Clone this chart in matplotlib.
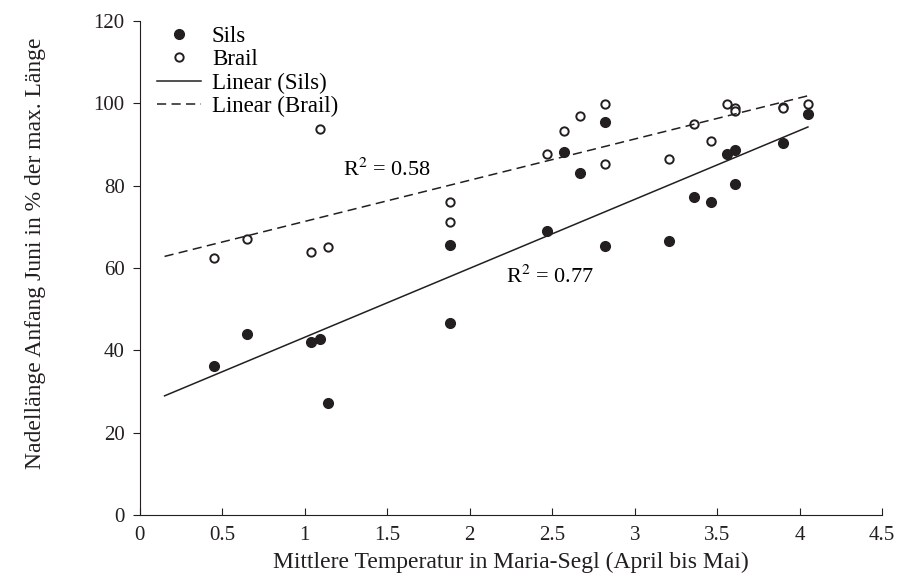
import numpy as np
import matplotlib.pyplot as plt

# Werte
sils_x = [0.45, 0.65, 1.04, 1.09, 1.14, 1.88, 1.88, 2.47, 2.57, 2.67, 2.82, 2.82,
          3.21, 3.36, 3.46, 3.56, 3.61, 3.61, 3.90, 4.05]
sils_y = [36.3, 44.0, 42.0, 42.7, 27.3, 65.7, 46.6, 69.1, 88.2, 83.1, 95.6, 65.4,
          66.5, 77.2, 76.0, 87.7, 88.8, 80.4, 90.3, 97.4]

brail_x = [0.45, 0.65, 1.04, 1.09, 1.14, 1.88, 1.88, 2.47, 2.57, 2.67, 2.82, 2.82,
           3.21, 3.36, 3.46, 3.56, 3.61, 3.61, 3.90, 3.90, 4.05]
brail_y = [62.5, 67.0, 64.0, 93.9, 65.1, 76.1, 71.2, 87.7, 93.2, 96.9, 99.8, 85.2,
           86.6, 95.0, 90.9, 99.8, 98.8, 98.2, 99.2, 98.8, 99.8]

plt.rcParams['font.family'] = ['Liberation Serif', 'DejaVu Serif']
plt.rcParams['font.size'] = 15
plt.rcParams['mathtext.fontset'] = 'stix'

fig = plt.figure(figsize=(9.02, 5.75), dpi=100)
ax = fig.add_axes([0.155, 0.1043, 0.823, 0.859])

ax.plot(sils_x, sils_y, 'o', color='#231f20', markersize=7, label='Sils')
ax.plot(brail_x, brail_y, 'o', markerfacecolor='white', markeredgecolor='#231f20',
        markeredgewidth=1.4, markersize=6, label='Brail')

xs = np.array([0.15, 4.05])
k1, d1 = np.polyfit(sils_x, sils_y, 1)
k2, d2 = np.polyfit(brail_x, brail_y, 1)
ax.plot(xs, k1 * xs + d1, '-', color='#231f20', lw=1.1, label='Linear (Sils)')
ax.plot(xs, k2 * xs + d2, '--', color='#231f20', lw=1.1, dashes=(6, 3.5), label='Linear (Brail)')

ax.text(1.23, 82.3, 'R$^2$ = 0.58', fontsize=16)
ax.text(2.22, 56.3, 'R$^2$ = 0.77', fontsize=16)

ax.set_xlim(0, 4.5)
ax.set_ylim(0, 120)
ax.set_xticks(np.arange(0, 4.6, 0.5))
ax.set_xticklabels(['0', '0.5', '1', '1.5', '2', '2.5', '3', '3.5', '4', '4.5'])
ax.set_yticks(range(0, 121, 20))
ax.tick_params(axis='x', direction='in', length=5, color='#231f20', labelcolor='#231f20', pad=8)
ax.tick_params(axis='y', direction='out', length=5, color='#231f20', labelcolor='#231f20', pad=6)
for s in ['top', 'right']:
    ax.spines[s].set_visible(False)
for s in ['left', 'bottom']:
    ax.spines[s].set_color('#231f20')

ax.set_xlabel('Mittlere Temperatur in Maria-Segl (April bis Mai)', color='#231f20',
              fontsize=17, labelpad=5)
ax.set_ylabel('Nadellänge Anfang Juni in % der max. Länge', color='#231f20', fontsize=17)
ax.yaxis.set_label_coords(-0.127, 0.53)

ax.legend(loc='upper left', frameon=False, bbox_to_anchor=(0.0, 1.025), fontsize=16.5,
          handlelength=1.9, handletextpad=0.5, labelspacing=0.1, borderaxespad=0.35)

fig.savefig('out.png', dpi=100)
